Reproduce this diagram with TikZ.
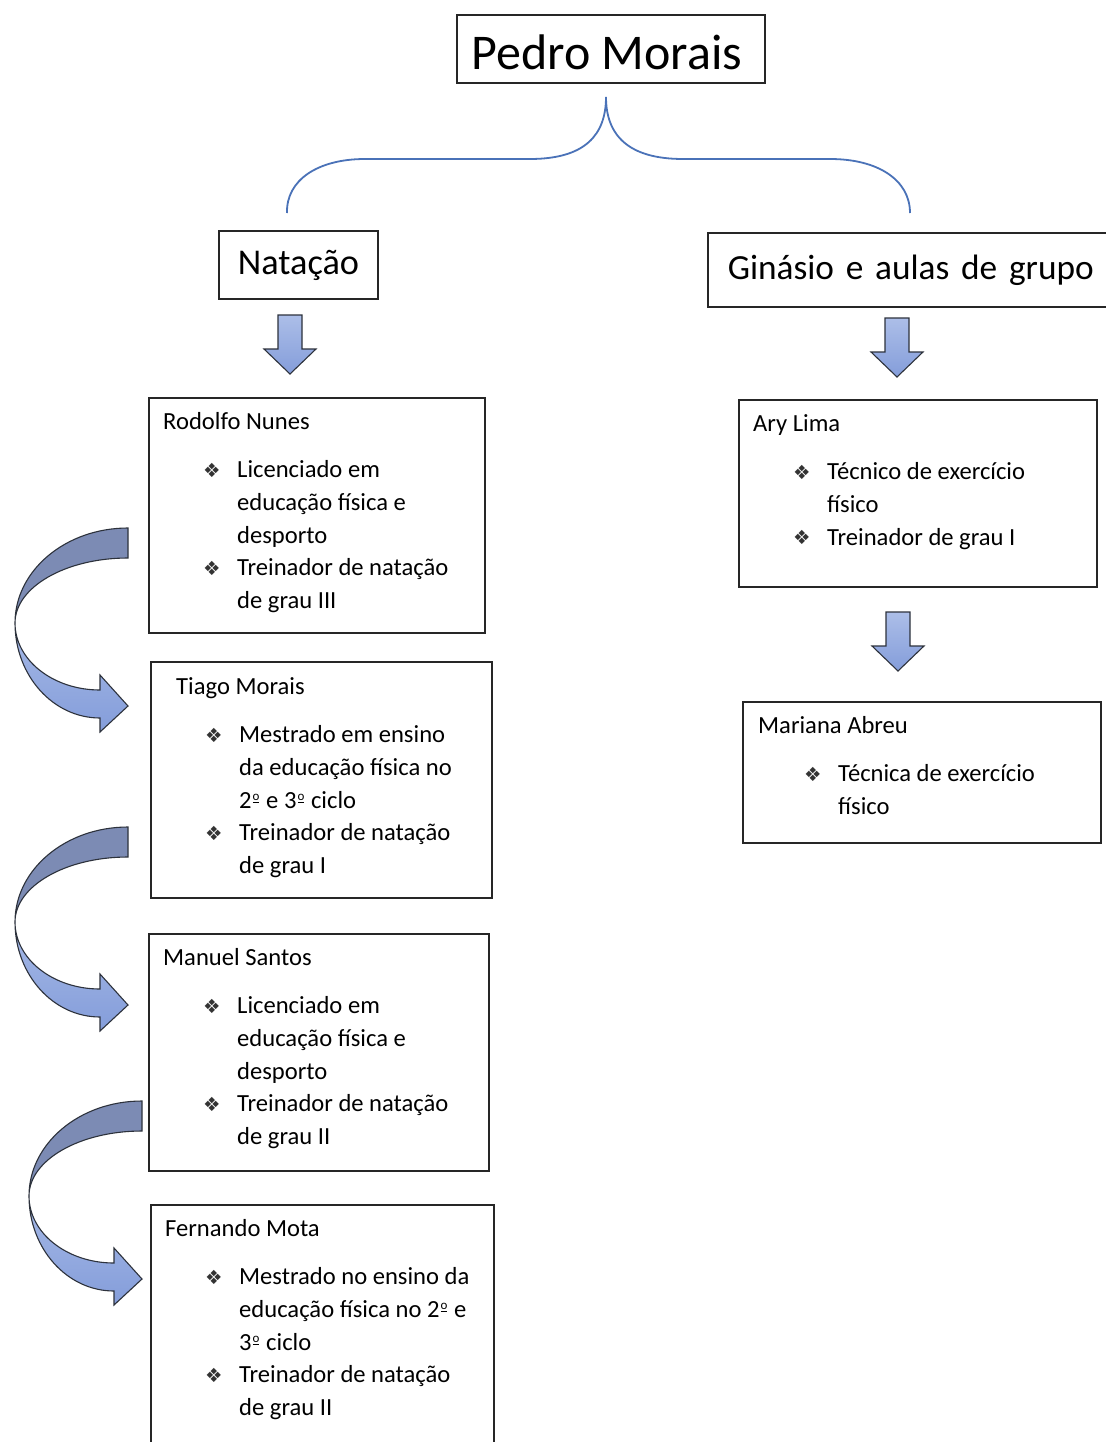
\documentclass[tikz,border=0pt]{standalone}
\usepackage{fontspec}
\setmainfont{Carlito}
\newfontfamily\dejavu{DejaVu Sans}
\usetikzlibrary{calc}
\definecolor{bracecol}{RGB}{74,114,184}
\definecolor{arrtop}{RGB}{172,190,232}
\definecolor{arrbot}{RGB}{132,157,218}
\definecolor{arrdark}{RGB}{124,139,180}
\definecolor{arrline}{RGB}{45,50,60}
\newcommand\bodyfont{\fontsize{24.6}{32.7}\selectfont}
\newcommand\titlefont{\fontsize{50}{58}\selectfont}
\newcommand\headfont{\fontsize{36.3}{44}\selectfont}
\newcommand\headfontb{\fontsize{35.3}{44}\selectfont}
\newcommand\bul{\raisebox{0.5pt}{\color{black!80}\dejavu\fontsize{19.5}{19.5}\selectfont ❖}}
\newcommand\ordo{\makebox[9pt][c]{\raisebox{7.5pt}{\fontsize{13}{13}\selectfont o}}\llap{\makebox[9pt][c]{\rule[5.2pt]{6.5pt}{1.1pt}}}}
\newlength\bulind
\newcommand\bitem[1]{\par\leftskip=\bulind\hangindent=34pt\hangafter=0\noindent\llap{\makebox[34pt][l]{\bul}}{\let\\\newline #1}\par}
\newcommand\card[3]{\parbox[t]{340pt}{\raggedright\setlength\bulind{#1}#2\par\vspace{16pt}#3}}
\tikzset{
  box/.style={draw=black!85, line width=1.6pt, inner sep=0pt},
  txt/.style={inner sep=0pt, font=\bodyfont, anchor=base west},
  downarrow/.pic={
    \draw[arrline, line width=1.1pt, top color=arrtop, bottom color=arrbot, line join=miter]
      (-12,0) -- (12,0) -- (12,34) -- (26,34) -- (0,59) -- (-26,34) -- (-12,34) -- cycle;
  },
  curvarrow/.pic={
    \draw[arrline, line width=1.1pt, fill=arrdark]
      (0,0) .. controls (-62.4,0) and (-113,42.5) .. (-113,95)
      .. controls (-113,59.1) and (-62.4,30) .. (0,30) -- cycle;
    \draw[arrline, line width=1.1pt, top color=arrtop!85!arrbot, bottom color=arrbot, line join=miter]
      (-113,95) .. controls (-113,147.5) and (-75,190) .. (-28,190)
      -- (-28,204) -- (0,178) -- (-28,147) -- (-28,162)
      .. controls (-75,162) and (-113,132) .. (-113,95) -- cycle;
  }
}
\begin{document}
\begin{tikzpicture}[x=1pt,y=-1pt]
\useasboundingbox[fill=white] (0,0) rectangle (1105,1442);

% top level
\node[box, minimum width=308pt, minimum height=68pt] (pedro) at (611,49) {};
\node[inner sep=0pt, font=\titlefont] (pedrot) at (607,52) {Pedro Morais};
\node[box, font=\headfont, minimum width=159pt, minimum height=68pt] (nat) at (298.5,265) {Natação};
\node[box, font=\headfontb, anchor=west, text width=380pt, align=left, inner xsep=20pt, minimum height=74pt] (gin) at (707,270) {Ginásio e aulas de grupo};

% brace
\coordinate (bt) at (606,97);
\coordinate (bl) at (287,213);
\coordinate (br) at (910,213);
\draw[bracecol, line width=1.8pt]
  (bl) .. controls (286,180) and (318,159) .. (365,159) -- (530,159)
  .. controls (585,159) and (606,135) .. (bt)
  .. controls (606,135) and (628,159) .. (683,159) -- (830,159)
  .. controls (878,159) and (910,180) .. (br);

% boxes left
\node[box, anchor=north west, minimum width=336pt, minimum height=235pt] (rod) at (148,397) {};
\node[box, anchor=north west, minimum width=341pt, minimum height=236pt] (tia) at (150,661) {};
\node[box, anchor=north west, minimum width=340pt, minimum height=237pt] (man) at (148,933) {};
\node[box, anchor=north west, minimum width=343pt, minimum height=270pt] (fer) at (150,1204) {};
% boxes right
\node[box, anchor=north west, minimum width=358pt, minimum height=187pt] (ary) at (738,399) {};
\node[box, anchor=north west, minimum width=358pt, minimum height=141pt] (mar) at (742,701) {};

% texts
\node[txt] (rodt) at ($(rod.north west)+(15,32)$) {\card{40pt}{Rodolfo Nunes}{%
  \bitem{Licenciado em\\educação física e\\desporto}%
  \bitem{Treinador de natação\\de grau III}}};
\node[txt] (tiat) at ($(tia.north west)+(26,33)$) {\card{29pt}{Tiago Morais}{%
  \bitem{Mestrado em ensino\\da educação física no\\2\ordo{} e 3\ordo{} ciclo}%
  \bitem{Treinador de natação\\de grau I}}};
\node[txt] (mant) at ($(man.north west)+(15,32)$) {\card{40pt}{Manuel Santos}{%
  \bitem{Licenciado em\\educação física e\\desporto}%
  \bitem{Treinador de natação\\de grau II}}};
\node[txt] (fert) at ($(fer.north west)+(15,32)$) {\card{40pt}{Fernando Mota}{%
  \bitem{Mestrado no ensino da\\educação física no 2\ordo{} e\\3\ordo{} ciclo}%
  \bitem{Treinador de natação\\de grau II}}};
\node[txt] (aryt) at ($(ary.north west)+(15,32)$) {\card{40pt}{Ary Lima}{%
  \bitem{Técnico de exercício\\físico}%
  \bitem{Treinador de grau I}}};
\node[txt] (mart) at ($(mar.north west)+(16,32)$) {\card{46pt}{Mariana Abreu}{%
  \bitem{Técnica de exercício\\físico}}};

% block arrows
\coordinate (d1) at (290,315);
\coordinate (d2) at (897,318);
\coordinate (d3) at (898,612);
\pic at (d1) {downarrow};
\pic at (d2) {downarrow};
\pic at (d3) {downarrow};

% curved arrows
\coordinate (c1) at (128,528);
\coordinate (c2) at (128,827);
\coordinate (c3) at (142,1101);
\pic at (c1) {curvarrow};
\pic at (c2) {curvarrow};
\pic at (c3) {curvarrow};
\end{tikzpicture}
\end{document}
